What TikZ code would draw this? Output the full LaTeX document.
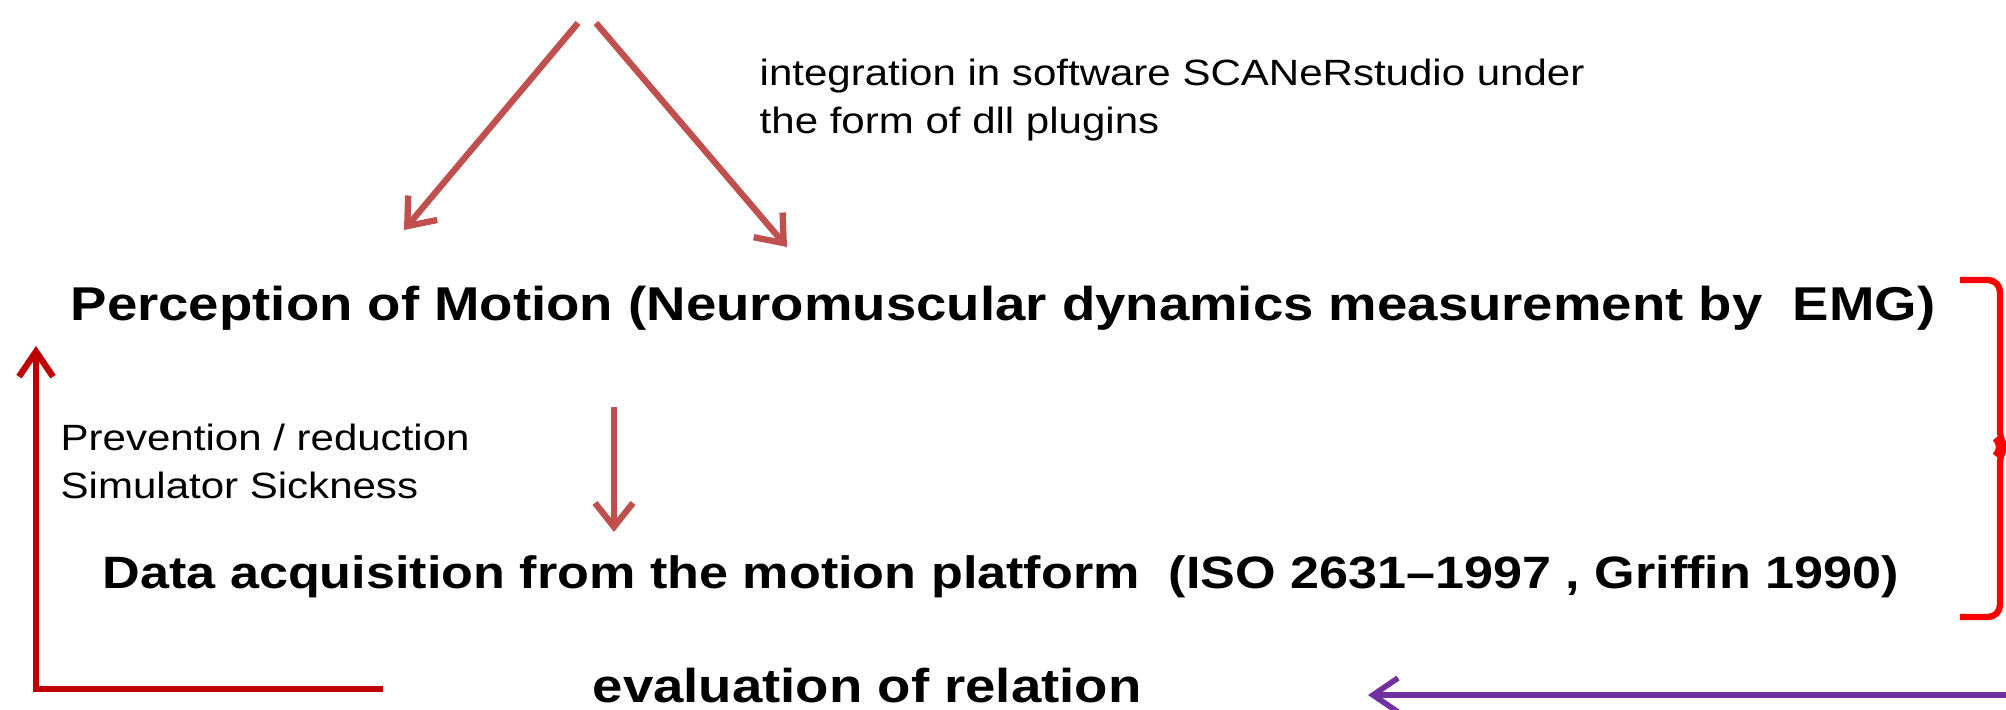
\documentclass[tikz,border=0pt]{standalone}
\usepackage{fontspec}
\setmainfont{Liberation Sans}[FakeStretch=1.15]
\usetikzlibrary{arrows.meta}
\definecolor{softred}{HTML}{C0504D}
\definecolor{deepred}{HTML}{C00000}
\definecolor{loopviolet}{HTML}{7030A0}
\begin{document}
\begin{tikzpicture}[every node/.style={inner sep=0pt, anchor=base west},
            head_text/.style={font=\fontsize{13.5}{16}\selectfont\bfseries},
            note_text/.style={font=\fontsize{10.4}{13.6}\selectfont, align=left},
            edge_style/.style={draw=softred, line width=1.8pt, -{Straight Barb[length=2.4mm, width=3.8mm]}}]
            \tikzset{loop edge/.style={draw=deepred, line width=1.8pt, -{Straight Barb[length=2.5mm, width=3.4mm]}}}
            \tikzset{violet edge/.style={draw=loopviolet, line width=1.6pt, -{Straight Barb[length=2.5mm, width=3.4mm]}}}
            \tikzset{brace edge/.style={draw=red, line width=1.8pt, rounded corners=1.2mm}}
            \useasboundingbox (0,0) rectangle (20.06,7.09);
            \coordinate (plugin_a) at (5.78, 6.86);
            \coordinate (plugin_b) at (5.96, 6.86);
            \coordinate (perc_a) at (4.04, 4.79);
            \coordinate (perc_b) at (7.87, 4.62);
            \coordinate (perc_out) at (6.14, 3.02);
            \coordinate (data_in) at (6.14, 1.77);
            \coordinate (loop_start) at (3.83, 0.20);
            \coordinate (loop_end) at (0.36, 3.63);
            \coordinate (eval_from) at (20.06, 0.14);
            \coordinate (eval_to) at (13.68, 0.14);
            \node [note_text] (integration) at (7.59, 5.76) {integration in software SCANeRstudio under\\the form of dll plugins};
            \node [head_text] (perception) at (0.70, 3.89) {Perception of Motion (Neuromuscular dynamics measurement by\ \ EMG)};
            \node [note_text] (prevention) at (0.60, 2.11) {Prevention / reduction\\Simulator Sickness};
            \node [head_text, font=\fontsize{12.9}{16}\selectfont\bfseries] (acquisition) at (1.02, 1.21) {Data acquisition from the motion platform\ \ (ISO 2631--1997 , Griffin 1990)};
            \node [head_text] (evaluation) at (5.92, 0.07) {evaluation of relation};
            \draw [edge_style] (plugin_a) -- (perc_a);
            \draw [edge_style] (plugin_b) -- (perc_b);
            \draw [edge_style] (perc_out) -- (data_in);
            \draw [loop edge] (loop_start) -| (loop_end);
            \draw [violet edge] (eval_from) -- (eval_to);
            \draw [brace edge] (19.60, 4.29) -- (20.00, 4.29) -- (20.00, 2.66) -- (20.04, 2.62) -- (20.00, 2.58) -- (20.00, 0.92) -- (19.60, 0.92);
        \end{tikzpicture}
\end{document}
